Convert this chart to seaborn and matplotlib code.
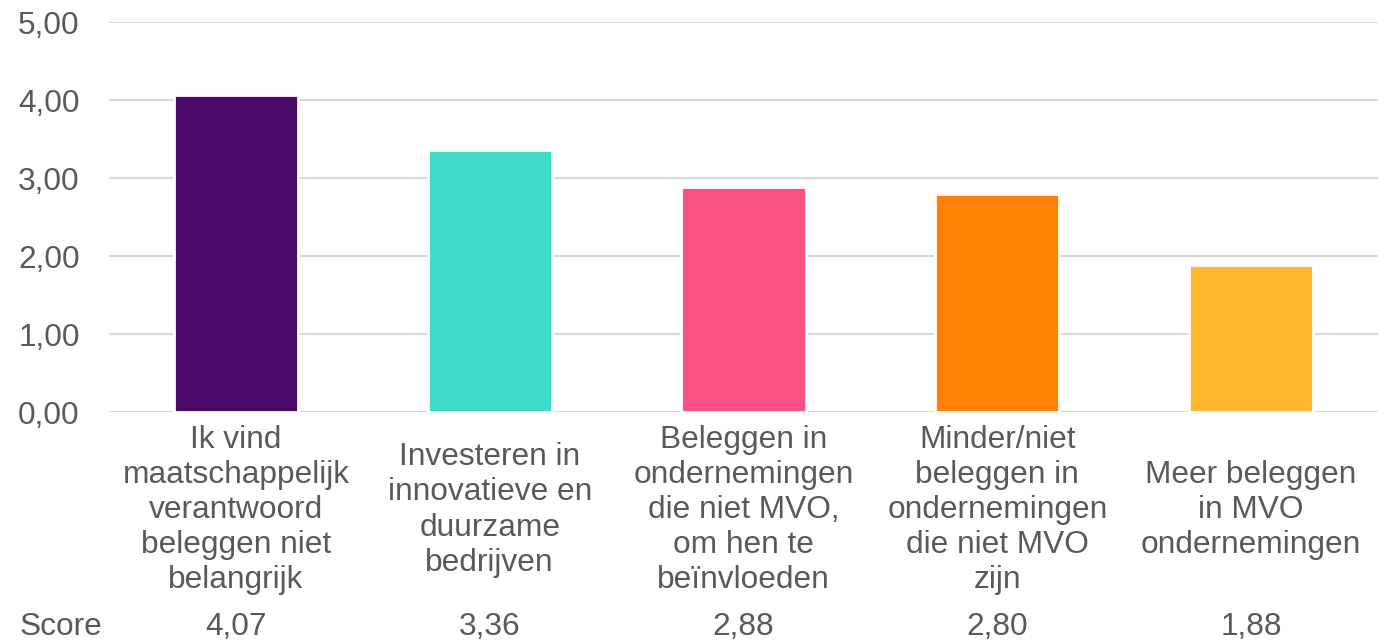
import matplotlib
matplotlib.use("Agg")
import matplotlib.pyplot as plt
import matplotlib.transforms as mtransforms
import seaborn as sns
import pandas as pd

categories = [
    "Ik vind\nmaatschappelijk\nverantwoord\nbeleggen niet\nbelangrijk",
    "Investeren in\ninnovatieve en\nduurzame\nbedrijven",
    "Beleggen in\nondernemingen\ndie niet MVO,\nom hen te\nbeïnvloeden",
    "Minder/niet\nbeleggen in\nondernemingen\ndie niet MVO\nzijn",
    "Meer beleggen\nin MVO\nondernemingen",
]
scores = [4.07, 3.36, 2.88, 2.80, 1.88]
score_labels = ["4,07", "3,36", "2,88", "2,80", "1,88"]
yticks = [0, 1, 2, 3, 4, 5]
ytick_labels = ["0,00", "1,00", "2,00", "3,00", "4,00", "5,00"]
colors = ["#4A0A6A", "#3CDCC9", "#F75281", "#FF8205", "#FFB82D"]

sns.set_theme(style="white")
plt.rcParams["font.family"] = ["Liberation Sans", "DejaVu Sans"]
text_color = "#595959"
fs = 22.8

df = pd.DataFrame({"cat": categories, "score": scores})

fig = plt.figure(figsize=(13.88, 6.41), dpi=100)
ax = fig.add_axes([109 / 1388, 1 - 412 / 641, (1378 - 109) / 1388, (412 - 22) / 641])

sns.barplot(data=df, x="cat", y="score", hue="cat", palette=colors, legend=False,
            width=0.49, ax=ax, edgecolor="white", linewidth=2, saturation=1, zorder=3)

ax.set_ylim(0, 5)
ax.set_xlim(-0.5, len(categories) - 0.5)
ax.set_yticks(yticks)
ax.set_yticklabels(ytick_labels)
ax.yaxis.grid(True, color="#D9D9D9", linewidth=1.5, zorder=0)
ax.set_axisbelow(True)
for s in ax.spines.values():
    s.set_visible(False)
ax.tick_params(axis="y", length=0, pad=21, labelsize=fs, labelcolor=text_color)
ax.set_xticks(range(len(categories)))
ax.set_xticklabels([])
ax.tick_params(axis="x", length=0)
ax.set_xlabel("")
ax.set_ylabel("")

trans = mtransforms.blended_transform_factory(ax.transData, fig.transFigure)
for i, cat in enumerate(categories):
    ax.text(i, 1 - 510 / 641, cat, transform=trans, ha="center", va="center",
            multialignment="center", fontsize=fs, color=text_color, linespacing=1.22)
    ax.text(i, 1 - 627 / 641, score_labels[i], transform=trans, ha="center", va="center",
            fontsize=fs, color=text_color)

fig.text(20 / 1388, 1 - 627 / 641, "Score", ha="left", va="center", fontsize=fs, color=text_color)

fig.savefig("out.png", dpi=100)
